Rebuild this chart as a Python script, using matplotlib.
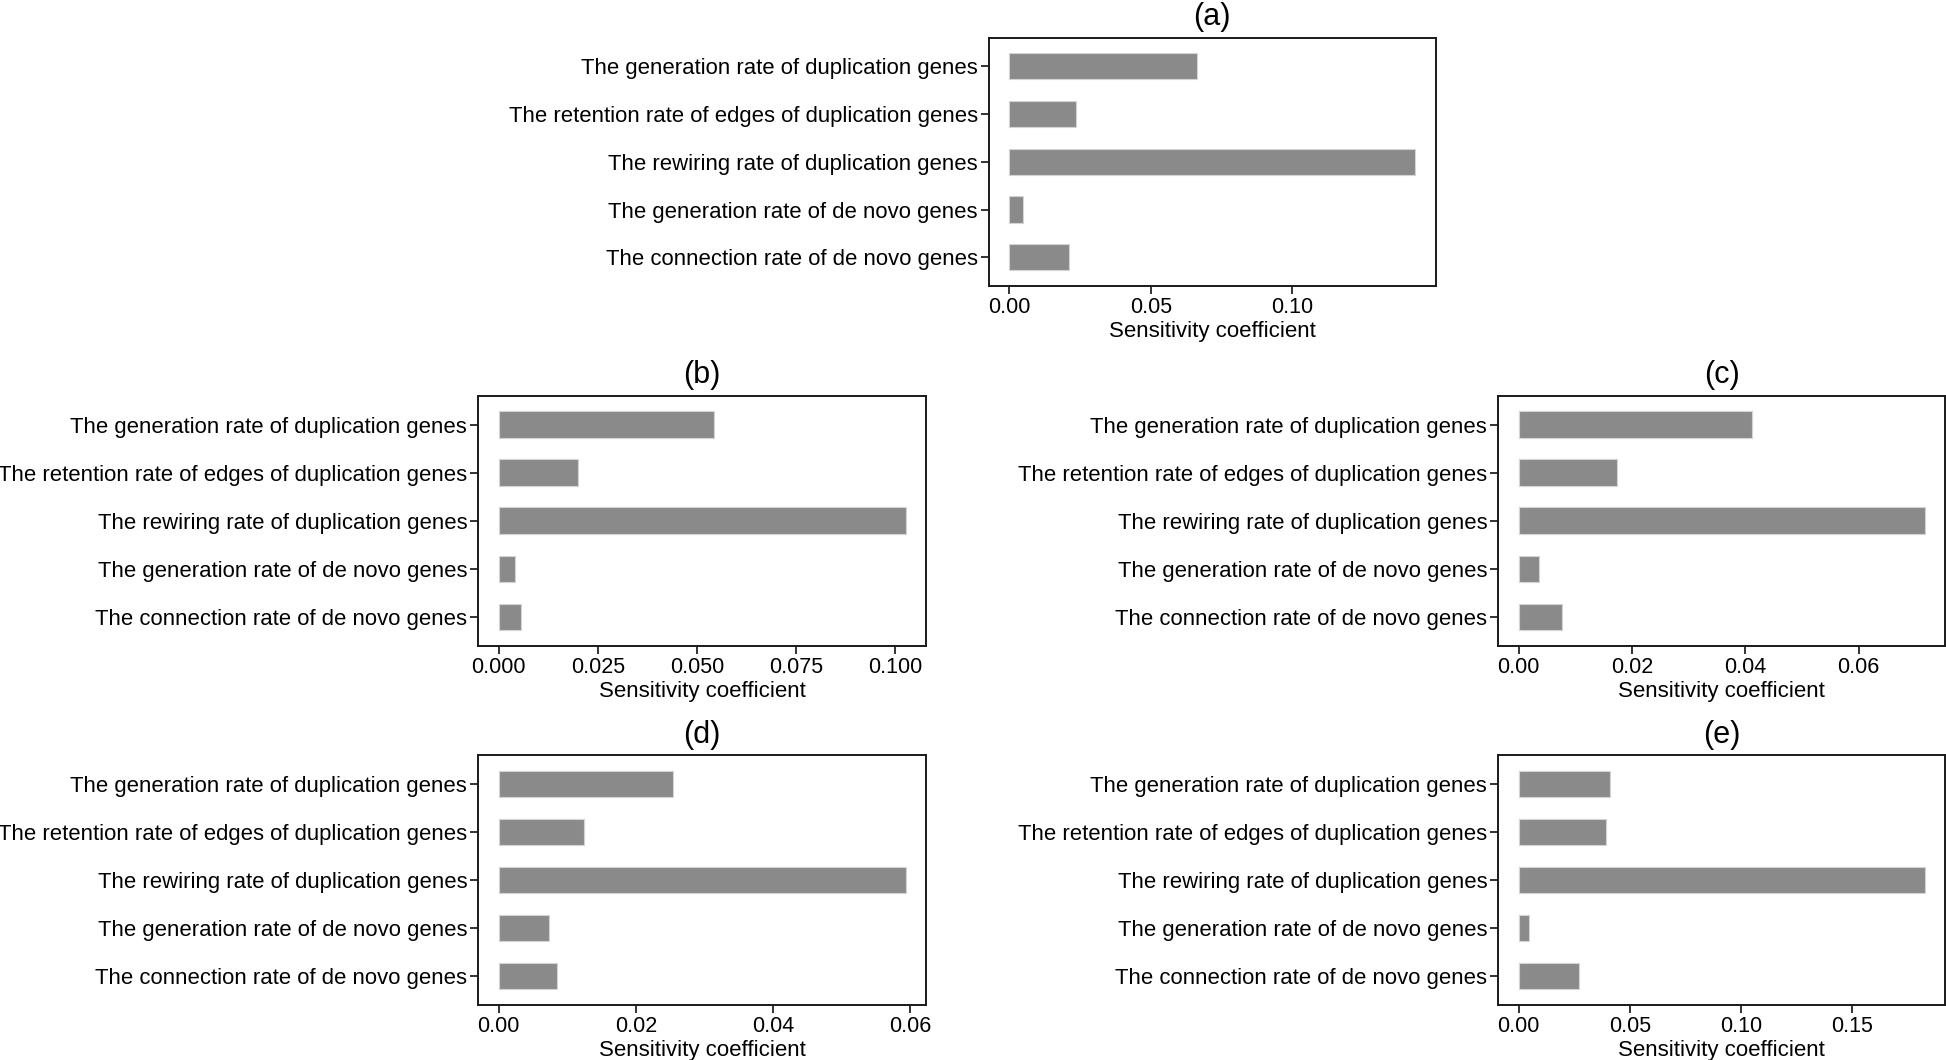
import matplotlib
matplotlib.use("Agg")
import matplotlib.pyplot as plt
import numpy as np

plt.rcParams['font.family'] = ['Liberation Sans', 'DejaVu Sans']

categories = [
    "The generation rate of duplication genes",
    "The retention rate of edges of duplication genes",
    "The rewiring rate of duplication genes",
    "The generation rate of de novo genes",
    "The connection rate of de novo genes",
]

values_a = [0.0663, 0.0236, 0.1434, 0.0048, 0.0212]
values_b = [0.0543, 0.0200, 0.1027, 0.0040, 0.0057]
values_c = [0.0411, 0.0174, 0.0717, 0.0036, 0.0076]
values_d = [0.0254, 0.0125, 0.0593, 0.0073, 0.0085]
values_e = [0.0410, 0.0392, 0.1829, 0.0046, 0.0271]

ticks_a = [0.00, 0.05, 0.10]
ticks_b = [0.000, 0.025, 0.050, 0.075, 0.100]
ticks_c = [0.00, 0.02, 0.04, 0.06]
ticks_d = [0.00, 0.02, 0.04, 0.06]
ticks_e = [0.00, 0.05, 0.10, 0.15]

ticklabels_a = ["0.00", "0.05", "0.10"]
ticklabels_b = ["0.000", "0.025", "0.050", "0.075", "0.100"]
ticklabels_c = ["0.00", "0.02", "0.04", "0.06"]
ticklabels_d = ["0.00", "0.02", "0.04", "0.06"]
ticklabels_e = ["0.00", "0.05", "0.10", "0.15"]

titles = ["(a)", "(b)", "(c)", "(d)", "(e)"]
xlabel = "Sensitivity coefficient"

W, H = 1946, 1060
fig = plt.figure(figsize=(W / 100, H / 100), dpi=100)

# axes boxes in pixels: left, right, top, bottom
boxes = [
    (989, 1435.7, 37.7, 286),
    (478.3, 926, 395.7, 645.7),
    (1498.3, 1945.3, 395.7, 645.7),
    (478.3, 926, 755, 1005),
    (1498.3, 1945.3, 755, 1005),
]

panels = [
    (values_a, ticks_a, ticklabels_a),
    (values_b, ticks_b, ticklabels_b),
    (values_c, ticks_c, ticklabels_c),
    (values_d, ticks_d, ticklabels_d),
    (values_e, ticks_e, ticklabels_e),
]

ypos = np.arange(len(categories))[::-1] + 1  # top category at highest position

for (l, r, t, b), (vals, ticks, tlabels), title in zip(boxes, panels, titles):
    ax = fig.add_axes([l / W, 1 - b / H, (r - l) / W, (b - t) / H])
    ax.barh(ypos, vals, height=0.55, color="#8a8a8a", edgecolor="#d4d4d4", linewidth=0.8)
    vmax = max(vals)
    ax.set_xlim(-0.05 * vmax, 1.05 * vmax)
    ax.set_ylim(0.4, len(categories) + 0.6)
    ax.set_yticks(ypos)
    ax.set_yticklabels(categories, fontsize=15.9, color="black")
    ax.set_xticks(ticks)
    ax.set_xticklabels(tlabels, fontsize=15.5, color="black")
    ax.set_xlabel(xlabel, fontsize=16, labelpad=2)
    ax.set_title(title, fontsize=22, pad=9)
    for s in ax.spines.values():
        s.set_linewidth(1.4)
        s.set_color("#1a1a1a")
    ax.tick_params(axis="both", length=6, width=1.4, color="#333333", pad=2)

fig.savefig("out.png", dpi=100, facecolor="white")
